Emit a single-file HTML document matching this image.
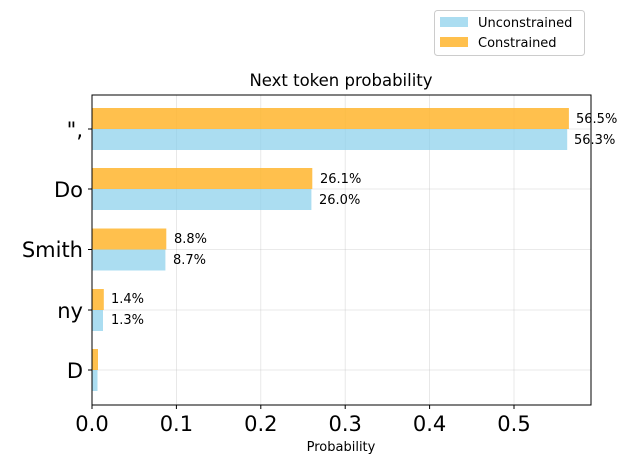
<!DOCTYPE html>
<html><head><style>body{margin:0;background:#fff}</style></head><body>
<svg width="629" height="464" xmlns="http://www.w3.org/2000/svg" font-family="'DejaVu Sans', 'Liberation Sans', sans-serif">
<rect width="629" height="464" fill="#fff"/>
<g stroke="#b0b0b0" stroke-opacity="0.35" stroke-width="0.8">
<line x1="92" y1="95" x2="92" y2="405"/><line x1="176.4" y1="95" x2="176.4" y2="405"/><line x1="260.8" y1="95" x2="260.8" y2="405"/><line x1="345.2" y1="95" x2="345.2" y2="405"/><line x1="429.6" y1="95" x2="429.6" y2="405"/><line x1="514" y1="95" x2="514" y2="405"/>
<line x1="92" y1="129" x2="591" y2="129"/><line x1="92" y1="189" x2="591" y2="189"/><line x1="92" y1="249.5" x2="591" y2="249.5"/><line x1="92" y1="310" x2="591" y2="310"/><line x1="92" y1="370" x2="591" y2="370"/>
</g>
<g fill="#ffb52e" fill-opacity="0.85">
<rect x="92" y="108" width="476.9" height="21"/><rect x="92" y="168" width="220.3" height="21"/><rect x="92" y="228.5" width="74.3" height="21"/><rect x="92" y="289" width="11.8" height="21"/><rect x="92" y="349" width="6" height="21"/>
</g>
<g fill="#87ceeb" fill-opacity="0.7">
<rect x="92" y="129" width="475.2" height="21"/><rect x="92" y="189" width="219.4" height="21"/><rect x="92" y="249.5" width="73.4" height="21"/><rect x="92" y="310" width="11" height="21"/><rect x="92" y="370" width="5.5" height="21"/>
</g>
<g font-size="13" fill="#000">
<text x="576" y="123">56.5%</text><text x="574" y="144">56.3%</text>
<text x="320" y="183">26.1%</text><text x="319" y="204">26.0%</text>
<text x="174" y="243">8.8%</text><text x="173" y="264">8.7%</text>
<text x="111" y="303">1.4%</text><text x="111" y="324">1.3%</text>
</g>
<rect x="92" y="95" width="499" height="310" fill="none" stroke="#000" stroke-width="1"/>
<g stroke="#000"><line x1="92" y1="405" x2="92" y2="409"/><line x1="176.4" y1="405" x2="176.4" y2="409"/><line x1="260.8" y1="405" x2="260.8" y2="409"/><line x1="345.2" y1="405" x2="345.2" y2="409"/><line x1="429.6" y1="405" x2="429.6" y2="409"/><line x1="514" y1="405" x2="514" y2="409"/>
<line x1="88" y1="129" x2="92" y2="129"/><line x1="88" y1="189" x2="92" y2="189"/><line x1="88" y1="249.5" x2="92" y2="249.5"/><line x1="88" y1="310" x2="92" y2="310"/><line x1="88" y1="370" x2="92" y2="370"/></g>
<g font-size="21" text-anchor="middle">
<text x="92" y="431">0.0</text><text x="176.4" y="431">0.1</text><text x="260.8" y="431">0.2</text><text x="345.2" y="431">0.3</text><text x="429.6" y="431">0.4</text><text x="514" y="431">0.5</text>
</g>
<g font-size="21" text-anchor="end">
<text x="83" y="137">",</text><text x="83" y="197">Do</text><text x="83" y="257">Smith</text><text x="83" y="318">ny</text><text x="83" y="378">D</text>
</g>
<text x="341" y="451" font-size="13" text-anchor="middle">Probability</text>
<text x="341" y="86" font-size="16.5" text-anchor="middle">Next token probability</text>
<rect x="434.5" y="10.5" width="150" height="45" rx="3" fill="#fff" stroke="#ccc"/>
<rect x="440" y="17" width="28" height="10" fill="#87ceeb" fill-opacity="0.7"/>
<rect x="440" y="37" width="28" height="10" fill="#ffb52e" fill-opacity="0.85"/>
<text x="478" y="27" font-size="13">Unconstrained</text>
<text x="478" y="47" font-size="13">Constrained</text>
</svg>
</body></html>
